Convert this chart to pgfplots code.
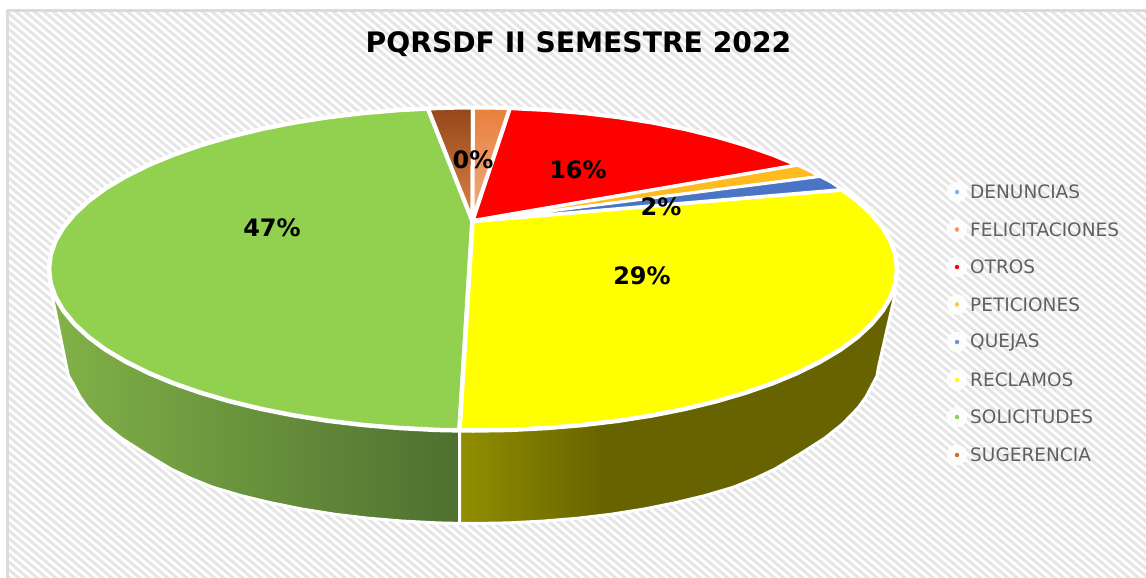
\documentclass[border=0pt]{standalone}
\usepackage{pgfplots}
\pgfplotsset{compat=1.18}
\usepackage{fontspec}
\setmainfont{DejaVu Sans}
\usetikzlibrary{patterns.meta}
\definecolor{gwL}{HTML}{82B248}
\definecolor{gwR}{HTML}{4E7030}
\definecolor{ywA}{HTML}{918E00}
\definecolor{ywB}{HTML}{666300}
\definecolor{solgreen}{HTML}{92D050}
\definecolor{yel}{RGB}{255,255,0}
\definecolor{rd}{RGB}{255,0,0}
\definecolor{brownT}{HTML}{94471A}
\definecolor{brownB}{HTML}{DD8446}
\definecolor{felT}{HTML}{E8803C}
\definecolor{felB}{HTML}{F0AE84}
\definecolor{petic}{HTML}{FFBA20}
\definecolor{blueq}{HTML}{4A75C4}
\definecolor{leg1}{HTML}{7FB2E0}
\definecolor{leg2}{HTML}{EE9A66}
\definecolor{leg4}{HTML}{FFC84A}
\definecolor{leg5}{HTML}{6E8FD0}
\definecolor{leg7}{HTML}{92D050}
\definecolor{leg8}{HTML}{C86A2A}
\pgfdeclarehorizontalshading{yellowwall}{100bp}{color(0bp)=(ywA); color(25bp)=(ywA); color(42bp)=(ywB); color(100bp)=(ywB)}
\pgfdeclarehorizontalshading{greenwall}{100bp}{color(0bp)=(gwL); color(25bp)=(gwL); color(75bp)=(gwR); color(100bp)=(gwR)}
\definecolor{legtxt}{HTML}{606060}
\begin{document}
\begin{tikzpicture}
\begin{axis}[
  hide axis, scale only axis, width=1146pt, height=578pt,
  xmin=0, xmax=1146, ymin=0, ymax=578, y dir=reverse,
  clip=true, no markers,
  every axis plot/.append style={line join=round},
]
% background
\addplot[draw=none, fill=white] coordinates {(0,0)(1146,0)(1146,578)(0,578)} -- cycle;
\addplot[draw=none, pattern={Lines[angle=-40,distance=6pt,line width=3pt]}, pattern color=black!10] coordinates {(8,11)(1146,11)(1146,578)(8,578)} -- cycle;
\addplot[draw=black!14, line width=2.5pt] coordinates {(7.5,578)(7.5,10.5)(1146,10.5)};
% side walls
\addplot[draw=white, line width=3pt, shading=greenwall] coordinates {
(459.5,430)(459.5,523.4)(437.7,522.9)(402.7,521.1)(368.2,518.2)(334.5,514.2)(301.8,509)(270.5,502.7)(240.7,495.5)(212.7,487.2)(191,478.5)(171,469)(146,454)(121,438)(103.5,424)(88,408)(80,397)(73.5,384.5)(68.5,376)(66.5,367)(51,290)(300,290)} -- cycle;
\addplot[draw=white, line width=3pt, shading=yellowwall] coordinates {
(459.5,430)(459.5,523.4)(473,523.5)(508.3,522.9)(543.3,521.1)(577.8,518.2)(611.5,514.2)(644.2,509)(675.5,502.7)(705.3,495.5)(733.3,487.2)(755,478.5)(775,469)(800,454)(825,438)(842.5,424)(858,408)(866,397)(872.5,384.5)(877,376)(878.5,367)(896,290)(600,290)} -- cycle;
% top slices
\addplot[draw=white, line width=4.5pt, fill=solgreen] coordinates {
(472.5,221)(459.5,430.4)(436,429.9)(399.4,428)(363.3,425)(328,420.8)(293.8,415.4)(261,408.9)(229.8,401.3)(200.5,392.7)(173.2,383.2)(148.2,372.8)(125.7,361.6)(105.8,349.8)(88.7,337.2)(74.6,324.2)(63.5,310.8)(55.4,297)(50.6,283.1)(49,269)(50.6,254.9)(55.4,241)(63.5,227.2)(74.6,213.8)(88.7,200.8)(105.8,188.2)(125.7,176.4)(148.2,165.2)(173.2,154.8)(200.5,145.3)(229.8,136.7)(261,129.1)(293.8,122.6)(328,117.2)(363.3,113)(399.4,110)(428,108.5)} -- cycle;
\addplot[draw=white, line width=4.5pt, fill=yel] coordinates {
(472.5,221)(842,189.5)(857.3,200.8)(871.4,213.8)(882.5,227.2)(890.6,241)(895.4,254.9)(897,269)(895.4,283.1)(890.6,297)(882.5,310.8)(871.4,324.2)(857.3,337.2)(840.2,349.8)(820.3,361.6)(797.8,372.8)(772.8,383.2)(745.5,392.7)(716.2,401.3)(685,408.9)(652.2,415.4)(618,420.8)(582.7,425)(546.6,428)(510,429.9)(473,430.5)(459.5,430.4)} -- cycle;
\addplot[draw=white, line width=4pt, top color=brownT, bottom color=brownB] coordinates {
(472.5,221)(428,108.5)(450,107.8)(473,107.5)} -- cycle;
\addplot[draw=white, line width=4pt, top color=felT, bottom color=felB] coordinates {
(472.5,221)(473,107.5)(490,107.6)(510,108.1)} -- cycle;
\addplot[draw=white, line width=4pt, fill=rd] coordinates {
(472.5,221)(510,108.1)(546.6,110)(582.7,113)(618,117.2)(652.2,122.6)(685,129.1)(716.2,136.7)(745.5,145.3)(772.8,154.8)(797.8,165.2)} -- cycle;
\addplot[draw=white, line width=3pt, fill=petic] coordinates {
(472.5,221)(797.8,165.2)(809,170.5)(820.3,176.4)} -- cycle;
\addplot[draw=white, line width=3pt, fill=blueq] coordinates {
(472.5,221)(820.3,176.4)(831,182)(842,189.5)} -- cycle;
% legend
\addplot[only marks, mark=square*, mark size=10pt, color=white, mark options={draw=none, fill=white, fill opacity=0.85}] coordinates {(957,192)(957,229.5)(957,267)(957,304.5)(957,342)(957,380)(957,417)(957,455)};
\addplot[only marks, mark=square*, mark size=2pt, color=leg1] coordinates {(957,192)};
\addplot[only marks, mark=square*, mark size=2pt, color=leg2] coordinates {(957,229.5)};
\addplot[only marks, mark=square*, mark size=2pt, color=rd] coordinates {(957,267)};
\addplot[only marks, mark=square*, mark size=2pt, color=leg4] coordinates {(957,304.5)};
\addplot[only marks, mark=square*, mark size=2pt, color=leg5] coordinates {(957,342)};
\addplot[only marks, mark=square*, mark size=2pt, color=yel] coordinates {(957,380)};
\addplot[only marks, mark=square*, mark size=2pt, color=leg7] coordinates {(957,417)};
\addplot[only marks, mark=square*, mark size=2pt, color=leg8] coordinates {(957,455)};
\node[anchor=west,text=legtxt,font=\fontsize{18.5}{18.5}\selectfont,inner sep=0pt] at (970,192) {DENUNCIAS};
\node[anchor=west,text=legtxt,font=\fontsize{18.5}{18.5}\selectfont,inner sep=0pt] at (970,229.5) {FELICITACIONES};
\node[anchor=west,text=legtxt,font=\fontsize{18.5}{18.5}\selectfont,inner sep=0pt] at (970,267) {OTROS};
\node[anchor=west,text=legtxt,font=\fontsize{18.5}{18.5}\selectfont,inner sep=0pt] at (970,304.5) {PETICIONES};
\node[anchor=west,text=legtxt,font=\fontsize{18.5}{18.5}\selectfont,inner sep=0pt] at (970,342) {QUEJAS};
\node[anchor=west,text=legtxt,font=\fontsize{18.5}{18.5}\selectfont,inner sep=0pt] at (970,380) {RECLAMOS};
\node[anchor=west,text=legtxt,font=\fontsize{18.5}{18.5}\selectfont,inner sep=0pt] at (970,417) {SOLICITUDES};
\node[anchor=west,text=legtxt,font=\fontsize{18.5}{18.5}\selectfont,inner sep=0pt] at (970,455) {SUGERENCIA};
% title and labels
\node[font=\fontsize{28.2}{28.2}\selectfont\bfseries,text=black,inner sep=0pt] at (578.5,44) {PQRSDF II SEMESTRE 2022};
\node[font=\fontsize{24}{24}\selectfont\bfseries,inner sep=0pt] at (272,228) {47\%};
\node[font=\fontsize{24}{24}\selectfont\bfseries,inner sep=0pt] at (578,170) {16\%};
\node[font=\fontsize{24}{24}\selectfont\bfseries,inner sep=0pt] at (661,207) {2\%};
\node[font=\fontsize{24}{24}\selectfont\bfseries,inner sep=0pt] at (642,276) {29\%};
\node[font=\fontsize{24}{24}\selectfont\bfseries,inner sep=0pt] at (473,160) {0\%};
\end{axis}
\end{tikzpicture}
\end{document}
